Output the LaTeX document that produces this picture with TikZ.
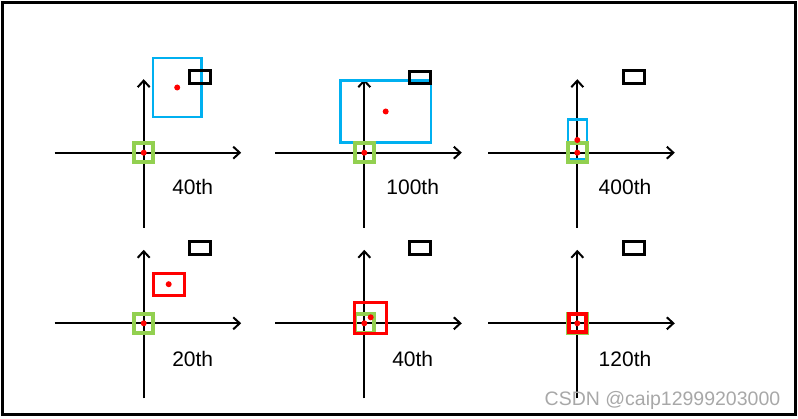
\documentclass[tikz,border=0pt]{standalone}
\usepackage{fontspec}
\setmainfont{Liberation Sans}
\usetikzlibrary{arrows.meta}
\definecolor{anchorgreen}{HTML}{92D050}
\definecolor{predblue}{HTML}{00B0F0}
\definecolor{predred}{HTML}{FF0000}
\definecolor{markgray}{HTML}{A8A8A8}

\begin{document}
\begin{tikzpicture}[x=1pt,y=-1pt,
    axis/.style={line width=2pt,-{Straight Barb[length=6.5pt,width=12pt]}},
    anchorbox/.style={draw=anchorgreen,line width=4pt,minimum size=19.5pt,inner sep=0pt},
    gtbox/.style={draw=black,line width=3pt,minimum width=21pt,minimum height=12.8pt,inner sep=0pt},
    bluebox/.style={draw=predblue,line width=2.6pt,inner sep=0pt},
    redbox/.style={draw=predred,line width=3pt,inner sep=0pt},
    steplabel/.style={font=\fontsize{21}{25}\selectfont,inner sep=0pt}]
    \useasboundingbox (0,0) rectangle (798,419);
    \draw[line width=3pt] (2.5,2.5) rectangle (795.5,414.5);
    % axes of the six frames
    \foreach \n/\x/\y in {1/143.7/152.7, 2/364.3/152.7, 3/577.3/152.7,
                          4/143.7/323.3, 5/364.3/323.3, 6/577.3/323.3} {
        \coordinate (O\n) at (\x,\y);
        \draw[axis] ([xshift=-89pt]O\n) -- ([xshift=97.5pt]O\n);
        \draw[axis] ([yshift=-75pt]O\n) -- ([yshift=73.5pt]O\n);
    }
    % predicted boxes under the anchors
    \draw (177.2,87.5) node[bluebox,minimum width=48.5pt,minimum height=59pt] (b1) {};
    \draw (385.7,111.5) node[bluebox,minimum width=90.8pt,minimum height=62.5pt] (b2) {};
    \draw (577.3,139.5) node[bluebox,minimum width=19pt,minimum height=40pt] (b3) {};
    % anchors
    \foreach \n in {1,...,6}
        \node[anchorbox] (g\n) at (O\n) {};
    \draw (168.7,284.2) node[redbox,minimum width=31pt,minimum height=22pt] (r4) {};
    \draw (370.5,317.8) node[redbox,minimum width=31.4pt,minimum height=31.3pt] (r5) {};
    \draw (577.3,323.2) node[redbox,line width=3.5pt,minimum width=17pt,minimum height=18pt] (r6) {};
    % ground truth boxes
    \draw (199.7,77.2) node[gtbox] (k1) {};
    \draw (420.3,77.5) node[gtbox] (k2) {};
    \draw (633.7,77.2) node[gtbox] (k3) {};
    \draw (199.7,248) node[gtbox] (k4) {};
    \draw (420.3,248) node[gtbox] (k5) {};
    \draw (633.7,248) node[gtbox] (k6) {};
    % centre points
    \foreach \p in {O1,O2,O3,O4,O5,O6,b1.center,b2.center,r4.center}
        \fill[predred] (\p) circle (3pt);
    \fill[predred] (577.3,140) circle (3pt);
    \fill[predred] (370.7,317.3) circle (3pt);
    % iteration labels
    \draw (192.7,186.7) node[steplabel] (t1) {40th};
    \draw (412.7,186.7) node[steplabel] (t2) {100th};
    \draw (625,186.7) node[steplabel] (t3) {400th};
    \draw (192.7,359.3) node[steplabel] (t4) {20th};
    \draw (412.7,359.3) node[steplabel] (t5) {40th};
    \draw (625,359.3) node[steplabel] (t6) {120th};
    \draw (662.5,400) node[font=\fontsize{19.5}{23}\selectfont,text=markgray,inner sep=0pt] (wm) {CSDN @caip12999203000};
\end{tikzpicture}
\end{document}
